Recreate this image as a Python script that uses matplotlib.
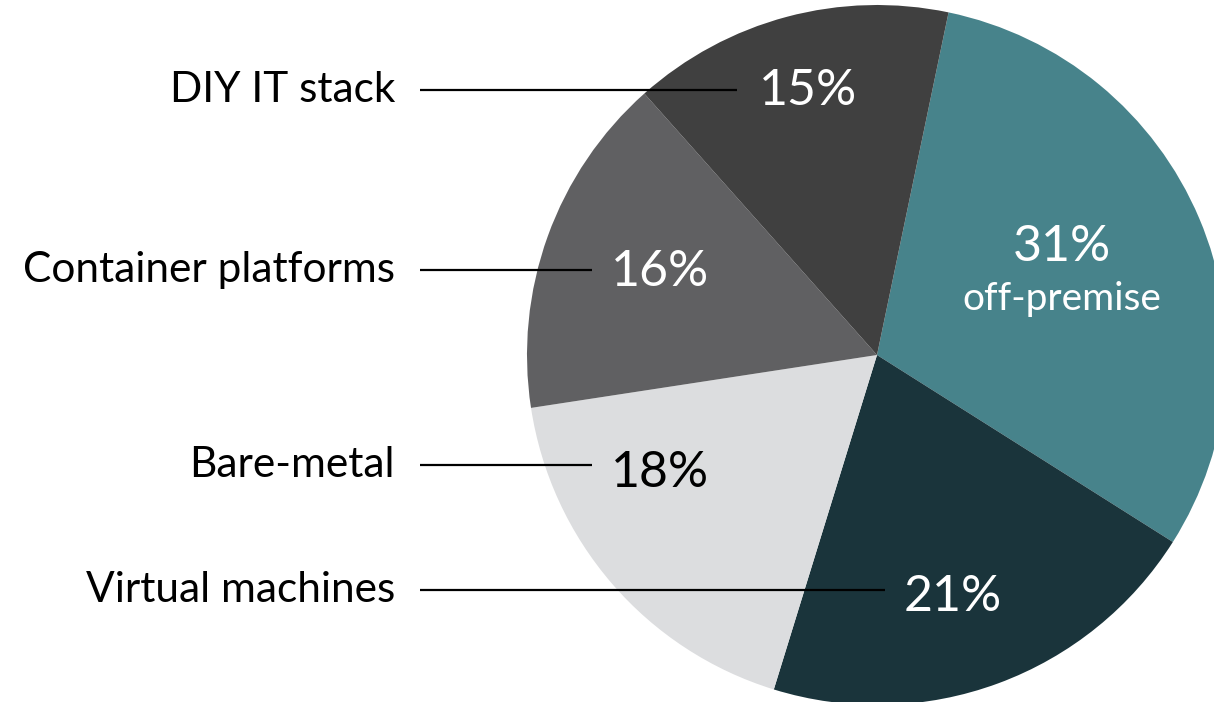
import matplotlib
matplotlib.use("Agg")
import matplotlib.pyplot as plt

# Slices, clockwise from the teal one
labels = ["off-premise", "Virtual machines", "Bare-metal", "Container platforms", "DIY IT stack"]
shares = [31, 21, 18, 16, 15]
colors = ["#47838B", "#1A343B", "#DCDDDF", "#606062", "#404040"]
pct_colors = ["white", "white", "black", "white", "white"]

# label layout (pixel coords, y from top)
pct_pos = [(1062, 247), (953, 597), (660, 473), (660, 272), (808, 91)]
side_y = [None, 590, 465, 270, 90]
line_end = [None, 885, 592, 592, 737]

plt.rcParams["font.family"] = ["Lato", "DejaVu Sans"]

W, H = 1214, 702
fig = plt.figure(figsize=(W / 100, H / 100), dpi=100)
ax = fig.add_axes([0, 0, 1, 1])

cx, cy, r = 877, H - 355, 350
ax.pie(shares, colors=colors, startangle=78.2, counterclock=False,
       center=(cx, cy), radius=r, frame=True,
       wedgeprops=dict(linewidth=0))
ax.set_xlim(0, W)
ax.set_ylim(0, H)
ax.set_aspect("equal")
ax.axis("off")

for i, s in enumerate(shares):
    x, y = pct_pos[i]
    ax.text(x, H - y, f"{s}%", color=pct_colors[i], fontsize=36,
            ha="center", va="center")
    if side_y[i] is not None:
        ax.text(395, H - side_y[i], labels[i], fontsize=30.5, ha="right",
                va="center", color="black")
        ax.plot([420, line_end[i]], [H - side_y[i], H - side_y[i]],
                color="black", lw=1.6, solid_capstyle="butt")

ax.text(pct_pos[0][0], H - 299, labels[0], color="white", fontsize=28,
        ha="center", va="center")

fig.savefig("out.png", dpi=100)
